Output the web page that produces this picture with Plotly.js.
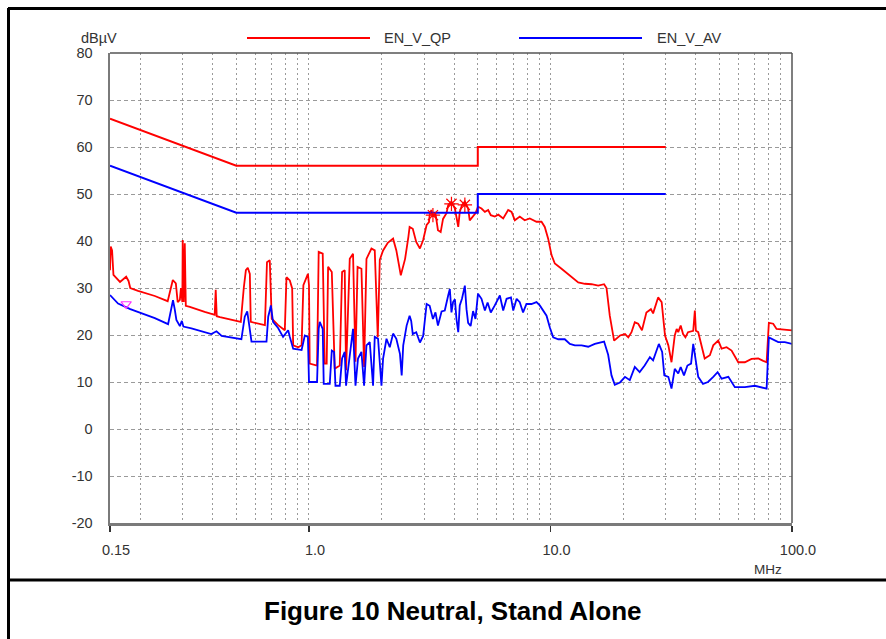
<!DOCTYPE html>
<html>
<head>
<meta charset="utf-8">
<script src="https://cdn.plot.ly/plotly-3.0.1.min.js"></script>
<style>html,body{margin:0;padding:0;background:#fff;}#chart{width:886px;height:639px;}</style>
</head>
<body>
<div id="chart"></div>
<script>
// ---------- data (frequency in MHz, level in dBµV) ----------
const qpLimitF = [0.15, 0.5, 5, 5, 30];
const qpLimitV = [66, 56, 56, 60, 60];
const avLimitF = [0.15, 0.5, 5, 5, 30];
const avLimitV = [56, 46, 46, 50, 50];

const qpScanF = [0.150,0.151,0.153,0.155,0.165,0.172,0.175,0.179,0.182,0.196,0.230,0.260,0.268,0.273,0.281,0.286,0.292,0.295,0.299,0.300,0.303,0.306,0.309,0.321,0.370,0.407,0.411,0.415,0.428,0.522,0.537,0.548,0.558,0.569,0.574,0.657,0.670,0.688,0.701,0.745,0.794,0.807,0.833,0.852,0.860,0.903,0.932,0.948,0.990,1.000,1.007,1.080,1.097,1.140,1.162,1.184,1.200,1.243,1.278,1.341,1.371,1.406,1.424,1.475,1.522,1.558,1.589,1.649,1.691,1.730,1.814,1.872,1.927,1.964,2.027,2.120,2.230,2.300,2.400,2.500,2.580,2.610,2.690,2.780,2.880,2.970,3.070,3.140,3.160,3.210,3.260,3.340,3.420,3.510,3.590,3.710,3.770,3.890,4.020,4.150,4.210,4.300,4.420,4.560,4.630,4.780,4.890,5.010,5.180,5.350,5.520,5.660,5.880,6.080,6.370,6.680,6.900,7.120,7.460,7.820,8.210,8.750,9.180,9.470,9.780,10.10,10.42,11.11,11.84,12.41,13.03,13.88,14.79,15.76,16.67,17.06,17.60,18.34,19.40,20.35,21.00,21.65,22.34,23.07,23.92,24.95,26.05,26.60,27.90,28.86,29.80,30.76,31.70,32.70,33.30,33.80,34.60,35.40,36.20,37.10,39.00,39.60,40.00,40.90,42.20,43.50,45.70,47.20,49.50,51.10,53.60,56.20,59.90,63.80,68.00,72.50,76.00,78.50,80.20,83.60,86.30,93.40,100];
const qpScanV = [33.8,38.8,38.0,32.8,31.3,32.0,32.4,31.5,30.0,29.4,28.3,27.2,30.0,31.7,31.0,27.0,27.5,30.0,27.0,40.2,27.0,39.5,26.2,26.0,24.9,24.3,29.6,24.0,23.8,22.8,30.0,33.8,34.3,33.0,22.8,22.1,35.5,35.9,23.5,22.1,21.0,32.3,31.6,29.9,17.8,17.4,17.8,30.6,33.0,30.6,13.9,13.5,37.7,37.3,13.9,13.9,34.5,33.4,12.8,13.5,33.4,33.8,12.5,36.2,37.3,14.3,34.5,34.1,13.2,36.2,38.4,38.0,19.5,36.0,38.0,39.6,40.5,38.0,32.7,36.2,40.9,43.0,42.6,39.8,38.4,40.2,43.4,44.0,45.5,46.6,45.2,45.9,42.3,41.9,44.7,45.9,47.6,48.4,46.9,43.0,46.2,47.6,48.4,46.9,44.4,45.2,45.9,47.3,46.9,46.2,46.6,45.5,45.2,45.6,44.8,46.6,46.2,44.4,45.2,44.4,44.8,44.1,44.1,43.0,40.5,37.0,35.2,34.1,33.0,32.0,31.2,30.9,30.8,30.5,30.8,30.0,24.1,18.8,19.9,20.2,19.5,20.6,22.7,22.4,21.0,24.8,25.5,24.6,28.0,27.0,19.9,17.8,14.2,19.9,21.3,20.6,22.0,20.2,19.5,20.6,20.9,25.2,20.9,20.6,17.8,15.0,15.7,17.8,18.8,17.1,17.4,16.7,14.2,14.2,14.9,15.0,14.5,14.2,22.6,22.4,21.3,21.2,21.0];

const avScanF = [0.150,0.1544,0.162,0.182,0.230,0.261,0.265,0.2735,0.278,0.2825,0.292,0.2976,0.302,0.326,0.394,0.414,0.435,0.525,0.542,0.555,0.566,0.578,0.667,0.678,0.693,0.695,0.710,0.745,0.781,0.807,0.820,0.833,0.860,0.932,0.961,0.990,1.000,1.080,1.097,1.108,1.140,1.151,1.219,1.243,1.270,1.287,1.341,1.371,1.406,1.424,1.475,1.522,1.558,1.596,1.649,1.691,1.730,1.785,1.842,1.872,1.932,1.996,2.027,2.094,2.160,2.230,2.300,2.380,2.420,2.456,2.537,2.610,2.650,2.690,2.780,2.880,2.970,3.070,3.160,3.260,3.340,3.420,3.540,3.650,3.770,3.830,3.890,3.950,4.020,4.080,4.150,4.210,4.300,4.420,4.490,4.560,4.670,4.780,4.890,5.010,5.180,5.350,5.490,5.660,5.880,6.170,6.370,6.580,6.860,7.010,7.240,7.460,7.700,7.950,8.340,8.750,9.030,9.320,9.630,9.940,10.26,10.77,11.46,12.03,12.62,13.45,14.33,15.26,16.67,17.33,17.89,18.46,19.40,20.35,21.30,22.34,23.40,24.54,25.80,26.60,28.10,29.00,29.60,30.76,31.70,32.70,33.80,34.60,35.70,36.90,38.20,39.00,39.90,40.90,42.80,44.90,47.20,49.20,51.10,54.50,58.00,63.80,70.20,74.80,78.50,80.20,83.60,87.70,93.40,100];
const avScanV = [28.5,27.8,26.7,25.5,23.6,22.3,24.0,27.4,25.5,23.2,21.9,23.0,21.8,21.4,20.2,20.8,19.8,19.1,23.9,25.0,22.0,18.6,18.6,23.9,25.9,26.3,22.8,21.5,19.6,20.7,21.0,19.6,17.1,16.8,19.9,19.6,10.0,10.0,21.3,22.8,21.3,9.6,9.6,16.7,16.4,9.2,9.2,15.0,16.4,9.2,15.7,21.3,9.2,15.0,16.4,9.2,17.8,18.5,9.2,19.6,19.2,9.2,15.0,19.2,17.4,20.3,19.2,16.0,11.4,17.8,22.0,24.1,23.0,20.2,20.6,18.4,19.8,26.6,26.2,23.4,24.8,22.0,25.0,25.2,28.4,29.8,24.8,27.0,27.6,23.4,20.6,26.3,27.7,30.5,25.5,22.6,21.9,25.1,23.4,28.8,27.7,25.2,26.9,24.8,26.3,28.4,25.2,27.7,28.0,25.2,27.7,27.0,24.8,26.6,26.6,27.0,26.3,25.2,24.1,21.6,19.5,19.1,19.1,18.1,17.8,17.8,17.5,18.1,18.6,15.8,11.4,9.4,9.9,11.1,10.4,13.2,12.1,13.5,15.3,14.6,18.1,16.4,11.4,11.1,8.6,12.8,11.8,13.2,11.4,13.5,13.9,18.1,14.3,11.1,9.6,10.0,11.1,12.1,10.7,11.1,8.9,8.9,9.2,8.8,8.6,19.5,19.1,18.5,18.5,18.1];

const qpMarkF = [3.26, 3.89, 4.42];
const qpMarkV = [45.5, 47.9, 47.7];
const avMarkF = [0.175];
const avMarkV = [26.6];

const xTickVals = [0.15, 1, 10, 100];
const xTickText = ['0.15', '1.0', '10.0', '100.0'];
const xMinorVals = [0.2,0.3,0.4,0.5,0.6,0.7,0.8,0.9,2,3,4,5,6,7,8,9,20,30,40,50,60,70,80,90];
const yTickVals = [-20, -10, 0, 10, 20, 30, 40, 50, 60, 70, 80];
const yTickText = ['-20', '-10', '0', '10', '20', '30', '40', '50', '60', '70', '80'];
const seriesNames = ['EN_V_QP', 'EN_V_AV'];
const yUnit = 'dBµV';
const xUnit = 'MHz';
const caption = 'Figure 10 Neutral, Stand Alone';

// ---------- styling ----------
const RED = '#ff0000', BLUE = '#0000ff';
const TXT = '#333333';
const GRID = '#9a9a9a';

const traces = [
  {x: qpScanF, y: qpScanV, type: 'scatter', mode: 'lines', line: {color: RED, width: 1.8}, name: seriesNames[0]},
  {x: avScanF, y: avScanV, type: 'scatter', mode: 'lines', line: {color: BLUE, width: 1.8}, name: seriesNames[1]},
  {x: qpLimitF, y: qpLimitV, type: 'scatter', mode: 'lines', line: {color: RED, width: 2}},
  {x: avLimitF, y: avLimitV, type: 'scatter', mode: 'lines', line: {color: BLUE, width: 2}},
  {x: qpMarkF, y: qpMarkV, type: 'scatter', mode: 'markers', marker: {symbol: 'asterisk-open', size: 12, color: RED, line: {color: RED, width: 1.2}}},
  {x: avMarkF, y: avMarkV, type: 'scatter', mode: 'markers', marker: {symbol: 'triangle-down-open', size: 9, color: '#ff33ff', line: {color: '#ff33ff', width: 1.2}}}
];

const L = 110, T = 53, W = 682, H = 470;
const px = v => (v - L) / W;
const py = v => (T + H - v) / H;

const layout = {
  width: 886, height: 639,
  margin: {l: 110, r: 94, t: 53, b: 116},
  paper_bgcolor: '#ffffff', plot_bgcolor: '#ffffff',
  showlegend: false,
  hovermode: false,
  font: {family: 'Liberation Sans, Arial, sans-serif', size: 14.5, color: TXT},
  xaxis: {
    type: 'log', range: [Math.log10(0.15), 2],
    tickvals: xTickVals, ticktext: xTickText,
    ticks: 'outside', ticklen: 6, tickwidth: 1.2, tickcolor: '#333',
    ticklabelshift: 6, ticklabelstandoff: 6,
    showgrid: true, gridcolor: GRID, griddash: '2px,3px', gridwidth: 1,
    minor: {tickvals: xMinorVals, showgrid: true, gridcolor: GRID, griddash: '2px,3px', gridwidth: 1, ticks: ''},
    showline: true, linecolor: '#7a7a7a', linewidth: 2.5, zeroline: false,
    tickfont: {size: 14.5, color: TXT}
  },
  yaxis: {
    range: [-20, 80], tickvals: yTickVals, ticktext: yTickText,
    ticks: '', ticklabelstandoff: 12,
    showgrid: true, gridcolor: GRID, griddash: '4px,3px', gridwidth: 1,
    showline: true, linecolor: '#7a7a7a', linewidth: 2.5, zeroline: false,
    tickfont: {size: 14.5, color: TXT}
  },
  shapes: [
    {type: 'line', xref: 'paper', yref: 'paper', x0: 0, x1: 1, y0: 1, y1: 1, line: {color: '#555', width: 1.5}},
    {type: 'line', xref: 'paper', yref: 'paper', x0: 1, x1: 1, y0: 0, y1: 1, line: {color: '#555', width: 1.5}},
    {type: 'line', xref: 'paper', yref: 'paper', x0: px(8), x1: px(900), y0: py(8.5), y1: py(8.5), line: {color: '#000', width: 3}},
    {type: 'line', xref: 'paper', yref: 'paper', x0: px(8.5), x1: px(8.5), y0: py(8), y1: py(660), line: {color: '#000', width: 3}},
    {type: 'line', xref: 'paper', yref: 'paper', x0: px(8), x1: px(900), y0: py(580), y1: py(580), line: {color: '#000', width: 3}},
    {type: 'line', xref: 'paper', yref: 'paper', x0: px(247), x1: px(370), y0: py(38), y1: py(38), line: {color: RED, width: 2}},
    {type: 'line', xref: 'paper', yref: 'paper', x0: px(519), x1: px(642), y0: py(38), y1: py(38), line: {color: BLUE, width: 2}}
  ],
  annotations: [
    {xref: 'paper', yref: 'paper', x: px(382), y: py(38), text: seriesNames[0], showarrow: false, xanchor: 'left', yanchor: 'middle', font: {size: 14.5, color: TXT}},
    {xref: 'paper', yref: 'paper', x: px(655), y: py(38), text: seriesNames[1], showarrow: false, xanchor: 'left', yanchor: 'middle', font: {size: 14.5, color: TXT}},
    {xref: 'paper', yref: 'paper', x: px(79), y: py(38), text: yUnit, showarrow: false, xanchor: 'left', yanchor: 'middle', font: {size: 14.5, color: TXT}},
    {xref: 'paper', yref: 'paper', x: px(768), y: py(569), text: xUnit, showarrow: false, xanchor: 'center', yanchor: 'middle', font: {size: 13.5, color: TXT}},
    {xref: 'paper', yref: 'paper', x: px(453), y: py(611), text: '<b>' + caption + '</b>', showarrow: false, xanchor: 'center', yanchor: 'middle', font: {family: 'Liberation Sans, Arial, sans-serif', size: 26, color: '#000'}}
  ]
};

Plotly.newPlot('chart', traces, layout, {displayModeBar: false, staticPlot: true});
</script>
</body>
</html>
